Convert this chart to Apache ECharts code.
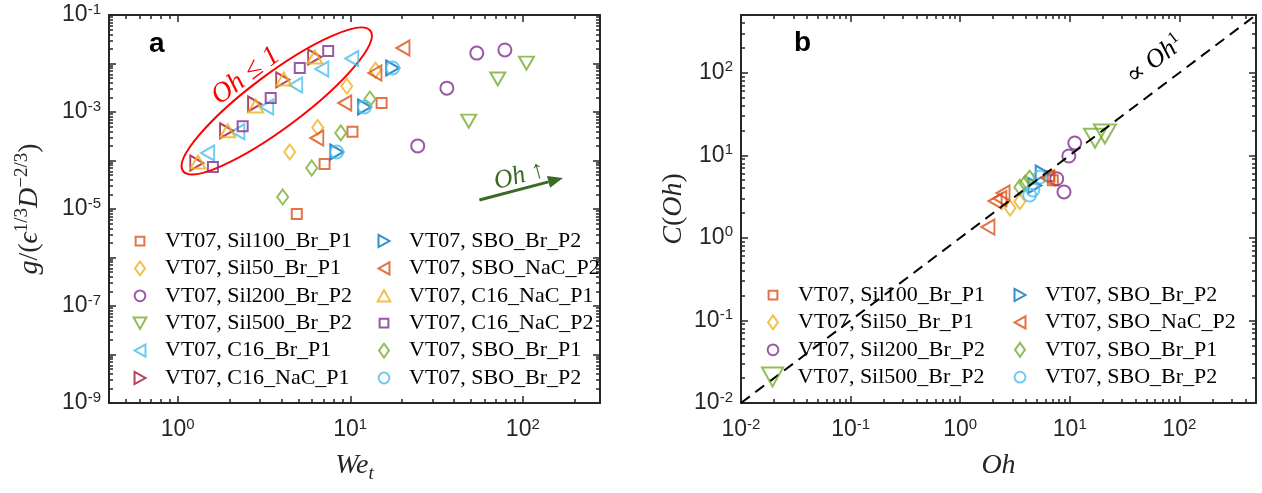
<!DOCTYPE html>
<html>
<head>
<meta charset="utf-8">
<script src="https://cdn.jsdelivr.net/npm/echarts@6/dist/echarts.min.js"></script>
<style>
  html, body { margin: 0; padding: 0; background: #fff; }
  #chart { width: 1262px; height: 493px; }
</style>
</head>
<body>
<div id="chart"></div>
<script>
// ---------- Panel a: g/(eps^1/3 D^-2/3) versus We_t ----------
const weSil100     = [[4.9, 7.9e-6], [7.1, 8.5e-5], [10.3, 3.9e-4], [15.2, 1.53e-3]];
const weSil50      = [[4.46, 1.5e-4], [6.48, 4.8e-4], [9.55, 3.4e-3], [14.0, 7.3e-3]];
const weSil200     = [[24.6, 2.0e-4], [36.3, 3.1e-3], [54.1, 1.64e-2], [78.7, 1.9e-2]];
const weSil500     = [[48.6, 6.5e-4], [71.6, 4.8e-3], [105, 1.02e-2]];
const weC16BrP1    = [[1.49, 1.43e-4], [2.23, 3.9e-4], [3.28, 1.27e-3], [4.83, 3.6e-3], [6.84, 7.7e-3], [10.2, 1.27e-2]];
const weC16NaCP1r  = [[1.29, 8.9e-5], [1.92, 4.1e-4], [2.79, 1.46e-3], [4.06, 4.6e-3], [6.22, 1.36e-2]];
const weSBOBrP2t   = [[8.35, 1.5e-4], [12.1, 1.27e-3], [17.6, 8.1e-3]];
const weSBONaCP2   = [[6.4, 2.9e-4], [9.29, 1.53e-3], [13.9, 6.4e-3], [20.2, 2.09e-2]];
const weC16NaCP1u  = [[1.31, 9.3e-5], [1.95, 4.1e-4], [2.83, 1.33e-3], [4.12, 4.8e-3], [6.22, 1.36e-2]];
const weC16NaCP2   = [[1.6, 7.35e-5], [2.38, 5.1e-4], [3.46, 1.95e-3], [5.1, 8.1e-3], [7.45, 1.81e-2]];
const weSBOBrP1    = [[4.06, 1.77e-5], [5.98, 7.0e-5], [8.81, 3.7e-4], [13.0, 1.85e-3]];
const weSBOBrP2c   = [[8.35, 1.5e-4], [12.1, 1.27e-3], [17.6, 8.1e-3]];

// ---------- Panel b: C(Oh) versus Oh ----------
const ohSil100     = [[6.5, 5.6], [7.0, 5.0]];
const ohSil50      = [[2.85, 2.3], [3.5, 2.75]];
const ohSil200     = [[7.6, 5.2], [8.85, 3.6], [9.8, 9.8], [11.1, 14.1]];
const ohSil500     = [[17.0, 16.1], [20.9, 18.1]];
const ohSBOBrP2t   = [[4.8, 4.3], [5.6, 6.1]];
const ohSBONaCP2   = [[1.79, 1.35], [2.08, 2.8], [2.3, 3.0], [2.46, 3.5], [6.3, 5.3]];
const ohSBOBrP1    = [[3.5, 4.1], [3.9, 4.6], [4.3, 5.3]];
const ohSBOBrP2c   = [[4.3, 3.3], [4.6, 3.8], [5.35, 5.45]];
const ohLinearFit  = [[1e-2, 1e-2], [5e2, 5e2]];

// axis ranges and labelled decades
const weRange = [0.4, 280],  gRange = [1e-9, 1e-1];
const ohRange = [1e-2, 5e2], cRange = [1e-2, 5e2];
const weLabels = [1, 10, 100];
const gLabels  = [1e-9, 1e-7, 1e-5, 1e-3, 1e-1];
const ohLabels = [1e-2, 1e-1, 1, 10, 100];
const cLabels  = [1e-2, 1e-1, 1, 10, 100];

// ---------- styling ----------
const SANS = 'Liberation Sans, Arial, sans-serif';
const SERIF = 'Liberation Serif, DejaVu Serif, serif';
const AXIS = '#262626';
const COL = {
  orange: '#D95319', yellow: '#EDB120', purple: '#7E2F8E', green: '#77AC30',
  cyan: '#4DBEEE', maroon: '#A2142F', blue: '#0072BD'
};
const SYM = {
  square:  'path://M0,0H10V10H0Z',
  diamond: 'path://M5,0L10,7L5,14L0,7Z',
  circle:  'path://M10,5A5,5,0,1,1,0,5A5,5,0,1,1,10,5Z',
  up:      'path://M5,0L10,9L0,9Z',
  down:    'path://M0,0L10,0L5,9Z',
  left:    'path://M9,0L9,10L0,5Z',
  right:   'path://M0,0L9,5L0,10Z'
};
// legend icons: same outlines inside a slightly larger box so they keep their relative size
const ICON = {
  square:  'path://M-3,-3M0,0H10V10H0ZM13,13',
  diamond: 'path://M5,0L10,7L5,14L0,7Z',
  circle:  'path://M-1.5,-1.5M10,5A5,5,0,1,1,0,5A5,5,0,1,1,10,5ZM11.5,11.5',
  up:      'path://M5,-1M5,0L10,9L0,9ZM5,10',
  down:    'path://M5,-1M0,0L10,0L5,9ZM5,10',
  left:    'path://M4.5,-0.75M9,0L9,10L0,5ZM4.5,10.75',
  right:   'path://M4.5,-0.75M0,0L9,5L0,10ZM4.5,10.75'
};
const SIZE = {
  square: [10, 10], diamond: [11, 15], circle: [13, 13],
  up: [15, 13], down: [15, 13], left: [13, 15], right: [13, 15]
};

function logTicks(min, max) {
  const major = [], minor = [];
  for (let e = Math.floor(Math.log10(min)); e <= Math.ceil(Math.log10(max)); e++) {
    for (let k = 1; k <= 9; k++) {
      const v = k * Math.pow(10, e);
      if (v < min * 0.999 || v > max * 1.001) continue;
      (k === 1 ? major : minor).push(v);
    }
  }
  return { major, minor };
}

const powFormatter = v => '{b|10}{s|' + Math.round(Math.log10(v)) + '}';
const tickRich = {
  b: { fontFamily: SANS, fontSize: 23, color: AXIS, lineHeight: 26 },
  s: { fontFamily: SANS, fontSize: 15, color: AXIS, verticalAlign: 'top', lineHeight: 15 }
};

// four boxed sides, each with long decade ticks and short intermediate ticks
function logAxes(gridIndex, range, labels, isX, nameCfg) {
  const t = logTicks(range[0], range[1]);
  const sides = isX ? ['bottom', 'top'] : ['left', 'right'];
  const out = [];
  sides.forEach((pos, si) => {
    [t.major, t.minor].forEach((vals, mi) => {
      const main = si === 0 && mi === 0;
      const ax = {
        type: 'log', logBase: 10, gridIndex, position: pos,
        min: range[0], max: range[1],
        axisLine: { show: mi === 0, onZero: false, lineStyle: { color: AXIS, width: 2 } },
        axisTick: { show: true, inside: true, length: mi === 0 ? 7 : 4, customValues: vals,
                    lineStyle: { color: AXIS, width: 1.5 } },
        minorTick: { show: false },
        splitLine: { show: false },
        axisLabel: main
          ? { show: true, customValues: labels, formatter: powFormatter, rich: tickRich,
              margin: isX ? 14 : 8 }
          : { show: false },
        silent: true
      };
      if (main && nameCfg) Object.assign(ax, nameCfg);
      out.push(ax);
    });
  });
  return out;
}

const mathI = { fontFamily: SERIF, fontStyle: 'italic', fontSize: 28, color: AXIS, lineHeight: 34 };
const mathN = { fontFamily: SERIF, fontSize: 28, color: AXIS, lineHeight: 34 };
const mathS = { fontFamily: SERIF, fontSize: 19, color: AXIS, verticalAlign: 'top', lineHeight: 19 };
const mathSub = { fontFamily: SERIF, fontStyle: 'italic', fontSize: 19, color: AXIS, verticalAlign: 'bottom', lineHeight: 19 };

const xAxes = [].concat(
  logAxes(0, weRange, weLabels, true, {
    name: '{i|We}{t|t}', nameLocation: 'middle', nameGap: 46,
    nameTextStyle: { rich: { i: mathI, t: mathSub } }
  }),
  logAxes(1, ohRange, ohLabels, true, {
    name: '{i|Oh}', nameLocation: 'middle', nameGap: 46,
    nameTextStyle: { rich: { i: mathI } }
  })
);
const yAxes = [].concat(
  logAxes(0, gRange, gLabels, false, {
    name: '{i|g}{n|/(}{i|ϵ}{s|1/3}{i|D}{s|−2/3}{n|)}', nameLocation: 'middle', nameGap: 62,
    nameTextStyle: { rich: { i: mathI, n: mathN, s: mathS } }
  }),
  logAxes(1, cRange, cLabels, false, {
    name: '{i|C}{n|(}{i|Oh}{n|)}', nameLocation: 'middle', nameGap: 50,
    nameTextStyle: { rich: { i: mathI, n: mathN } }
  })
);

// ---------- series ----------
const ZW = '\u200b', ZB = '\u200c';
function scatter(name, data, shape, color, panel, size) {
  const ai = panel === 0 ? 0 : 4;
  return {
    type: 'scatter', name, data,
    xAxisIndex: ai, yAxisIndex: ai,
    symbol: SYM[shape], symbolSize: size || SIZE[shape],
    itemStyle: { color: 'transparent', borderColor: color, borderWidth: 2 },
    emphasis: { disabled: true }, silent: true, z: 2
  };
}

const namesA = [
  'VT07, Sil100_Br_P1', 'VT07, Sil50_Br_P1', 'VT07, Sil200_Br_P2', 'VT07, Sil500_Br_P2',
  'VT07, C16_Br_P1', 'VT07, C16_NaC_P1',
  'VT07, SBO_Br_P2', 'VT07, SBO_NaC_P2', 'VT07, C16_NaC_P1' + ZW, 'VT07, C16_NaC_P2',
  'VT07, SBO_Br_P1', 'VT07, SBO_Br_P2' + ZW
];
const shapesA = ['square', 'diamond', 'circle', 'down', 'left', 'right',
                 'right', 'left', 'up', 'square', 'diamond', 'circle'];
const namesB = [
  'VT07, Sil100_Br_P1' + ZB, 'VT07, Sil50_Br_P1' + ZB, 'VT07, Sil200_Br_P2' + ZB, 'VT07, Sil500_Br_P2' + ZB,
  'VT07, SBO_Br_P2' + ZB, 'VT07, SBO_NaC_P2' + ZB, 'VT07, SBO_Br_P1' + ZB, 'VT07, SBO_Br_P2' + ZW + ZB
];
const shapesB = ['square', 'diamond', 'circle', 'down', 'right', 'left', 'diamond', 'circle'];

const series = [
  scatter(namesA[0], weSil100, 'square', COL.orange, 0),
  scatter(namesA[1], weSil50, 'diamond', COL.yellow, 0),
  scatter(namesA[2], weSil200, 'circle', COL.purple, 0),
  scatter(namesA[3], weSil500, 'down', COL.green, 0),
  scatter(namesA[4], weC16BrP1, 'left', COL.cyan, 0),
  scatter(namesA[5], weC16NaCP1r, 'right', COL.maroon, 0),
  scatter(namesA[6], weSBOBrP2t, 'right', COL.blue, 0),
  scatter(namesA[7], weSBONaCP2, 'left', COL.orange, 0),
  scatter(namesA[8], weC16NaCP1u, 'up', COL.yellow, 0),
  scatter(namesA[9], weC16NaCP2, 'square', COL.purple, 0),
  scatter(namesA[10], weSBOBrP1, 'diamond', COL.green, 0),
  scatter(namesA[11], weSBOBrP2c, 'circle', COL.cyan, 0),

  scatter(namesB[0], ohSil100, 'square', COL.orange, 1),
  scatter(namesB[1], ohSil50, 'diamond', COL.yellow, 1),
  scatter(namesB[2], ohSil200, 'circle', COL.purple, 1),
  scatter(namesB[3], ohSil500, 'down', COL.green, 1, [22, 19]),
  scatter(namesB[4], ohSBOBrP2t, 'right', COL.blue, 1),
  scatter(namesB[5], ohSBONaCP2, 'left', COL.orange, 1),
  scatter(namesB[6], ohSBOBrP1, 'diamond', COL.green, 1),
  scatter(namesB[7], ohSBOBrP2c, 'circle', COL.cyan, 1),
  {
    type: 'line', name: 'fit', data: ohLinearFit, xAxisIndex: 4, yAxisIndex: 4,
    symbol: 'none', silent: true, z: 3,
    lineStyle: { color: '#000', width: 2, type: [11, 7] }
  }
];

const legendText = { fontFamily: SERIF, fontSize: 22, color: '#000', lineHeight: 22 };
const stripZW = n => n.replace(/[\u200b\u200c]/g, '');
function legendBlock(names, shapes, left, top, itemH, plainIcon) {
  return {
    data: names.map((n, i) => ({ name: n, icon: plainIcon ? SYM[shapes[i]] : ICON[shapes[i]] })),
    left, top, orient: 'vertical', padding: 0,
    itemWidth: 40, itemHeight: itemH || 14, itemGap: 5.4,
    selectedMode: false, formatter: stripZW, textStyle: legendText,
    itemStyle: { borderWidth: 2 }
  };
}

const option = {
  animation: false,
  backgroundColor: '#fff',
  grid: [
    { left: 109, top: 15, width: 491, height: 388 },
    { left: 741, top: 15, width: 515, height: 388 }
  ],
  xAxis: xAxes,
  yAxis: yAxes,
  title: [
    { text: 'a', left: 149, top: 30, padding: 0,
      textStyle: { fontFamily: SANS, fontWeight: 'bold', fontSize: 28, color: '#000' } },
    { text: 'b', left: 794, top: 29, padding: 0,
      textStyle: { fontFamily: SANS, fontWeight: 'bold', fontSize: 28, color: '#000' } }
  ],
  legend: [
    legendBlock(namesA.slice(0, 6), shapesA.slice(0, 6), 132, 230),
    legendBlock(namesA.slice(6, 12), shapesA.slice(6, 12), 376, 230),
    legendBlock(namesB.slice(0, 3), shapesB.slice(0, 3), 765, 284),
    legendBlock(namesB.slice(3, 4), shapesB.slice(3, 4), 761, 366, 19, true),
    legendBlock(namesB.slice(4, 8), shapesB.slice(4, 8), 1012, 284)
  ],
  series
};

const chart = echarts.init(document.getElementById('chart'), null, { renderer: 'canvas' });
chart.setOption(option);

// ---------- annotations ----------
const pa = (x, y) => chart.convertToPixel({ xAxisIndex: 0, yAxisIndex: 0 }, [x, y]);
const pb = (x, y) => chart.convertToPixel({ xAxisIndex: 4, yAxisIndex: 4 }, [x, y]);
const deg = Math.PI / 180;

// ellipse enclosing the low-Oh cases
const ellC = pa(3.75, 1.69e-3);
const ellText = pa(2.48, 5.5e-3);
// arrow indicating increasing Oh
const arS = pa(56, 1.53e-5), arE = pa(171, 4.35e-5);
const arAng = Math.atan2(arE[1] - arS[1], arE[0] - arS[0]);
const headL = 15, headW = 6;
const ux = Math.cos(arAng), uy = Math.sin(arAng);
const base = [arE[0] - ux * headL, arE[1] - uy * headL];
const arMid = [(arS[0] + arE[0]) / 2 - 2, (arS[1] + arE[1]) / 2 - 13];
// slope label of the dashed line
const fitText = pb(60, 142);
const fitA = pb(1, 1), fitB = pb(100, 100);
const fitAng = Math.atan2(-(fitB[1] - fitA[1]), fitB[0] - fitA[0]);

const GREEN_ANN = '#3A6A24';
chart.setOption({
  graphic: [
    { type: 'ellipse', x: ellC[0], y: ellC[1], rotation: 36.8 * deg, silent: true,
      shape: { cx: 0, cy: 0, rx: 117, ry: 27 },
      style: { fill: 'none', stroke: '#FF0000', lineWidth: 2 } },
    { type: 'text', x: ellText[0], y: ellText[1], rotation: 37 * deg, silent: true,
      style: { text: 'Oh ≤ 1', fontFamily: SERIF, fontStyle: 'italic', fontSize: 28,
               fill: '#FF0000', align: 'center', verticalAlign: 'middle' } },
    { type: 'line', silent: true,
      shape: { x1: arS[0], y1: arS[1], x2: base[0], y2: base[1] },
      style: { stroke: GREEN_ANN, lineWidth: 3 } },
    { type: 'polygon', silent: true,
      shape: { points: [arE, [base[0] - uy * headW, base[1] + ux * headW], [base[0] + uy * headW, base[1] - ux * headW]] },
      style: { fill: GREEN_ANN } },
    { type: 'text', x: arMid[0], y: arMid[1], rotation: -arAng, silent: true,
      style: { text: 'Oh ↑', fontFamily: SERIF, fontStyle: 'italic', fontSize: 26,
               fill: GREEN_ANN, align: 'center', verticalAlign: 'middle' } },
    { type: 'text', x: fitText[0], y: fitText[1], rotation: fitAng, silent: true,
      style: {
        text: '{n|∝ }{i|Oh}{s|1}', align: 'center', verticalAlign: 'middle',
        rich: {
          n: { fontFamily: SERIF, fontSize: 26, fill: '#000', lineHeight: 30 },
          i: { fontFamily: SERIF, fontStyle: 'italic', fontSize: 26, fill: '#000', lineHeight: 30 },
          s: { fontFamily: SERIF, fontSize: 17, fill: '#000', verticalAlign: 'top', lineHeight: 17 }
        }
      } }
  ]
});
</script>
</body>
</html>
